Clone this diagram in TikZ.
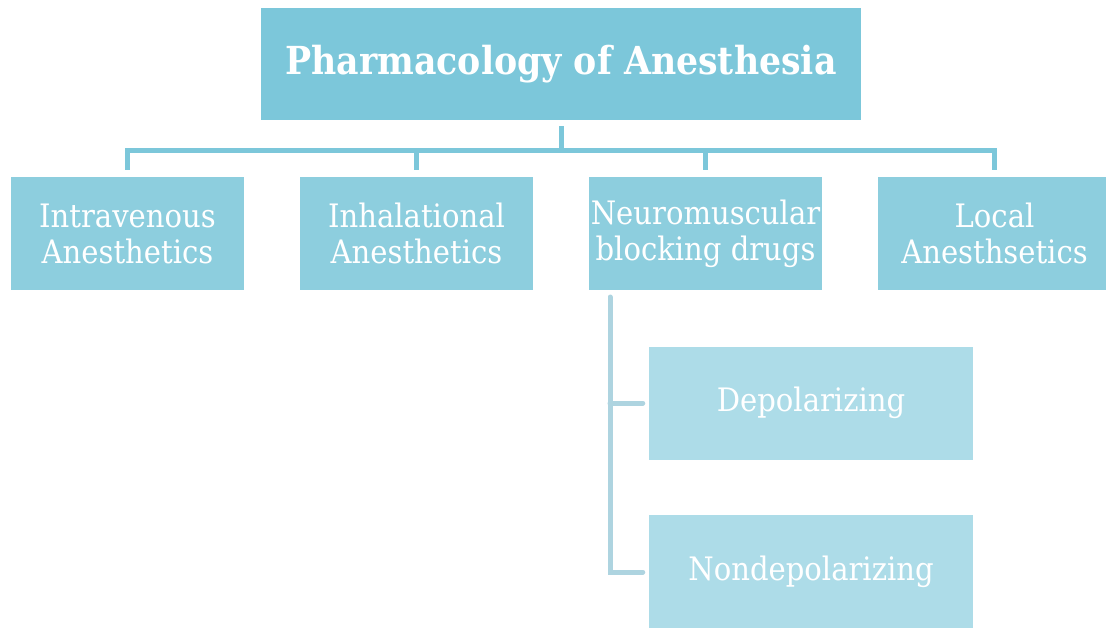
\documentclass[tikz,border=0pt]{standalone}
\usepackage{fontspec}
\setmainfont{DejaVu Serif Condensed}
\definecolor{topc}{HTML}{7CC7DA}
\definecolor{midc}{HTML}{8DCEDE}
\definecolor{lowc}{HTML}{ADDCE8}
\definecolor{brc}{HTML}{AED4E0}
\begin{document}
\begin{tikzpicture}[x=1pt,y=-1pt,
  box/.style={inner sep=0pt, text=white, align=center},
  topbox/.style={box, fill=topc, minimum width=600pt, minimum height=112pt,
    font=\fontsize{38.6}{42}\selectfont\bfseries},
  midbox/.style={box, fill=midc, minimum width=233pt, minimum height=113pt,
    font=\fontsize{32.3}{36}\selectfont},
  lowbox/.style={box, fill=lowc, minimum width=324pt, minimum height=113pt,
    font=\fontsize{32.3}{36}\selectfont},
  conn/.style={draw=topc, line width=5pt},
  bconn/.style={draw=brc, line width=5pt, line cap=round}]
\useasboundingbox (0,0) rectangle (1106,627);
\node[topbox] (top) at (561,64) {Pharmacology of Anesthesia};
\node[midbox] (iv) at (127.5,233.5) {Intravenous\\Anesthetics};
\node[midbox] (inh) at (416.5,233.5) {Inhalational\\Anesthetics};
\node[midbox] (nm) at (705.5,233.5) {Neuromuscular\\blocking drugs};
\node[midbox] (loc) at (994.5,233.5) {Local\\Anesthsetics};
\node[lowbox] (dep) at (811,403) {Depolarizing};
\node[lowbox] (ndep) at (811,571.5) {Nondepolarizing};
% connectors
\coordinate (t0) at (561,126);
\coordinate (bar) at (561,150);
\draw[conn] (t0) -- (bar);
\draw[conn] (125,150) -- (997,150);
\foreach \n in {iv,inh,nm,loc}{
  \draw[conn] (\n.north |- bar) -- ([yshift=7pt]\n.north);
}
\coordinate (b0) at (610,297);
\coordinate (b1) at (610,403);
\coordinate (b2) at (610,572);
\draw[bconn] (b0) -- (b2) -- ([xshift=-6pt]ndep.west |- b2);
\draw[bconn] (b1) -- ([xshift=-6pt]dep.west |- b1);
\end{tikzpicture}
\end{document}
